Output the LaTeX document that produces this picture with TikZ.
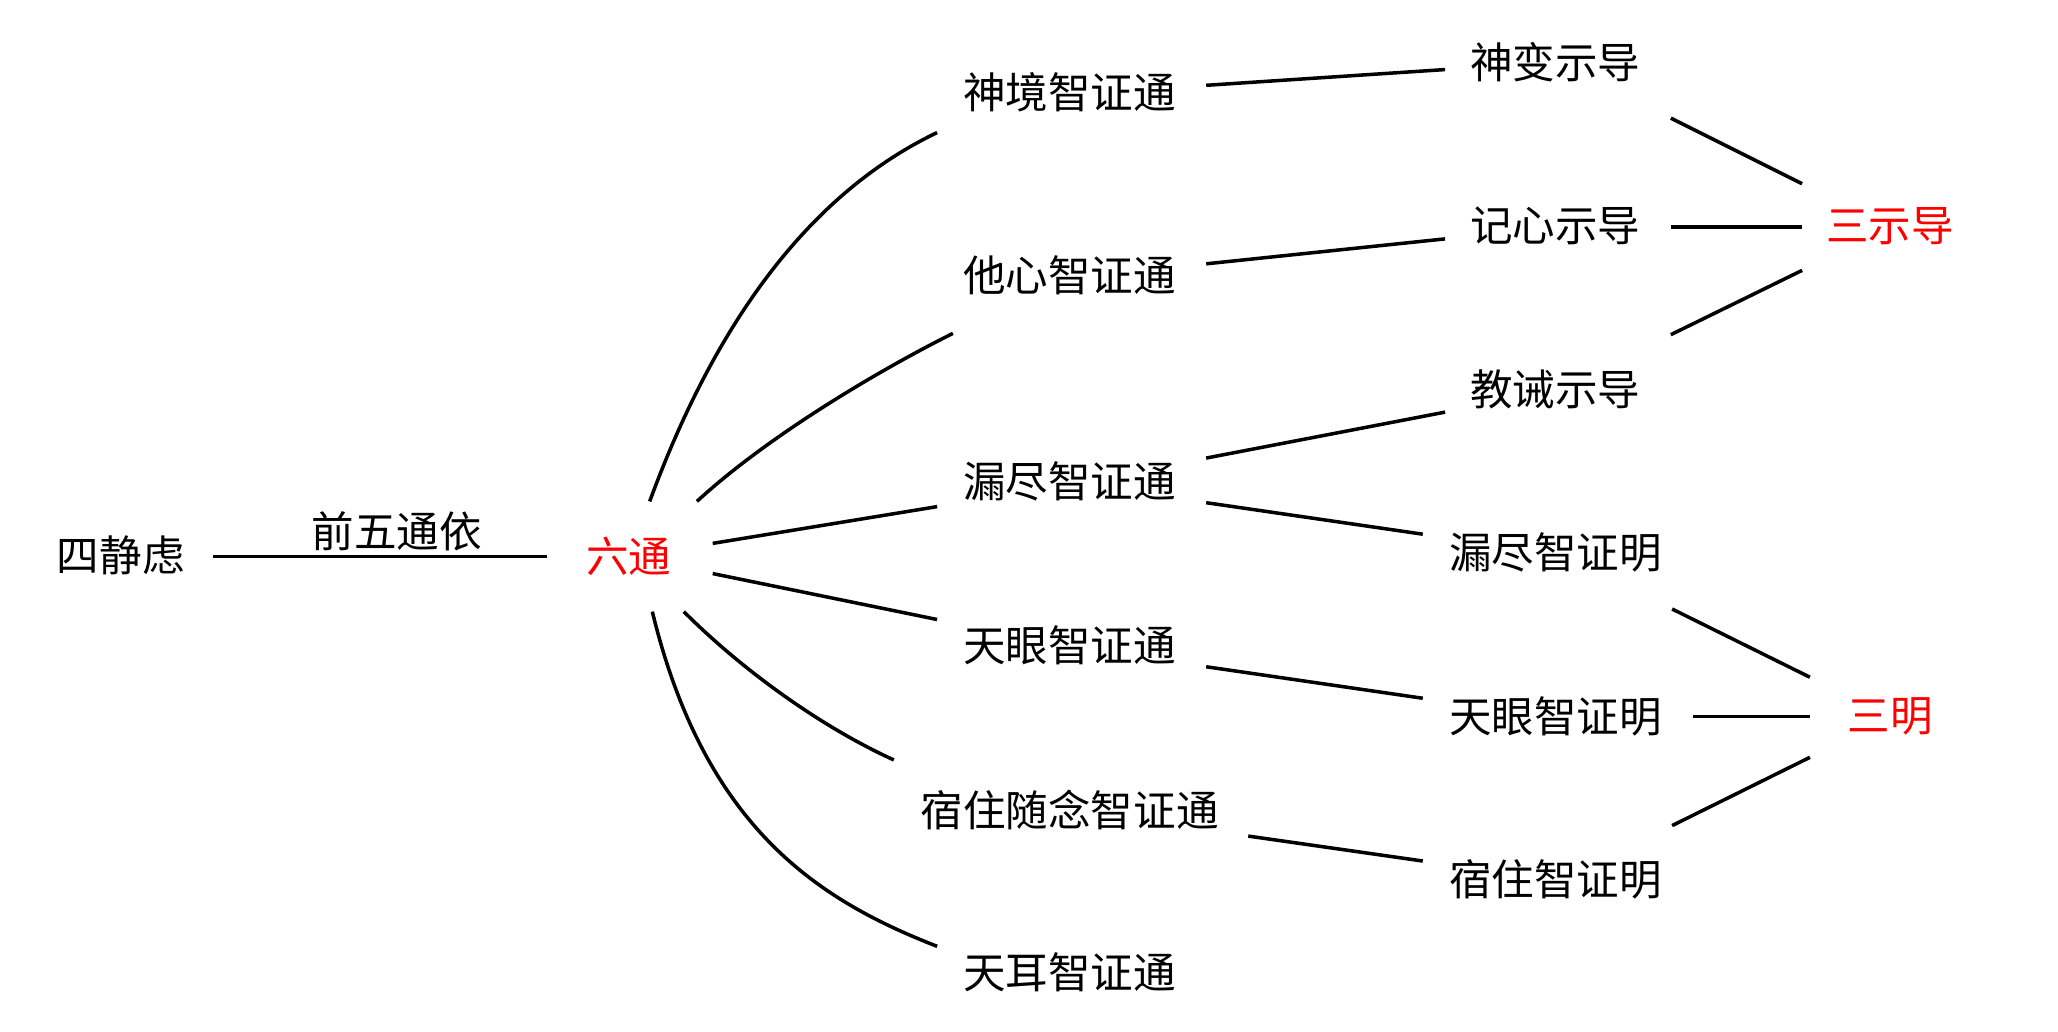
\documentclass[tikz,border=0pt]{standalone}
\usepackage{fontspec}
\newfontfamily\cjk{Noto Sans CJK SC}

\begin{document}
\begin{tikzpicture}[x=0.013125cm,y=-0.013125cm,line width=1pt,
		every node/.style={font=\cjk\fontsize{12.1pt}{14pt}\selectfont,inner sep=0pt},
		key/.style={text=red}]
	\useasboundingbox (0,0) rectangle (1568,786);

	% left: source and the six powers
	\node (jinglv) at (92,423) {四静虑};
	\node [key] (liutong) at (479,424) {六通};

	\node (shenjing) at (815,70) {神境智证通};
	\node (taxin) at (815,210) {他心智证通};
	\node (loujin) at (815,367) {漏尽智证通};
	\node (tianyan) at (815,492) {天眼智证通};
	\node (suzhu) at (815,617) {宿住随念智证通};
	\node (tianer) at (815,741) {天耳智证通};

	% right: three displays and three knowledges
	\node (shenbian) at (1185,47) {神变示导};
	\node (jixin) at (1185,172) {记心示导};
	\node (jiaojie) at (1185,297) {教诫示导};
	\node (loujinm) at (1185,421) {漏尽智证明};
	\node (tianyanm) at (1185,546) {天眼智证明};
	\node (suzhum) at (1185,670) {宿住智证明};

	\node [key] (sanshi) at (1440,172) {三示导};
	\node [key] (sanming) at (1440,546) {三明};

	\draw ([shift={(70,1)}]jinglv.center) -- node [pos=0.55,above=1pt] (qianwu) {前五通依}
		([shift={(-62,0)}]liutong.center);

	% fan out of liutong
	\draw ([shift={(16,-42)}]liutong.center) .. controls +(55,-150) and +(-88,42) ..
		([shift={(-101,31)}]shenjing.center);
	\draw ([shift={(52,-42)}]liutong.center) .. controls +(52,-48) and +(-60,30) ..
		([shift={(-89,44)}]taxin.center);
	\draw ([shift={(64,-10)}]liutong.center) -- ([shift={(-101,19)}]loujin.center);
	\draw ([shift={(64,13)}]liutong.center) -- ([shift={(-101,-20)}]tianyan.center);
	\draw ([shift={(42,42)}]liutong.center) .. controls +(45,45) and +(-55,-25) ..
		([shift={(-134,-38)}]suzhu.center);
	\draw ([shift={(18,42)}]liutong.center) .. controls +(40,165) and +(-90,-35) ..
		([shift={(-101,-20)}]tianer.center);

	% middle to right
	\draw ([shift={(104,-5)}]shenjing.center) -- ([shift={(-84,6)}]shenbian.center);
	\draw ([shift={(104,-9)}]taxin.center) -- ([shift={(-84,10)}]jixin.center);
	\draw ([shift={(104,-18)}]loujin.center) -- ([shift={(-84,17)}]jiaojie.center);
	\draw ([shift={(104,16)}]loujin.center) -- ([shift={(-101,-14)}]loujinm.center);
	\draw ([shift={(104,16)}]tianyan.center) -- ([shift={(-101,-14)}]tianyanm.center);
	\draw ([shift={(136,20)}]suzhu.center) -- ([shift={(-101,-14)}]suzhum.center);

	% gather into the two groups
	\draw ([shift={(88,43)}]shenbian.center) -- ([shift={(-67,-32)}]sanshi.center);
	\draw ([shift={(88,1)}]jixin.center) -- ([shift={(-67,1)}]sanshi.center);
	\draw ([shift={(88,-42)}]jiaojie.center) -- ([shift={(-67,34)}]sanshi.center);
	\draw ([shift={(89,43)}]loujinm.center) -- ([shift={(-61,-30)}]sanming.center);
	\draw ([shift={(105,0)}]tianyanm.center) -- ([shift={(-61,0)}]sanming.center);
	\draw ([shift={(89,-41)}]suzhum.center) -- ([shift={(-61,31)}]sanming.center);
\end{tikzpicture}
\end{document}
